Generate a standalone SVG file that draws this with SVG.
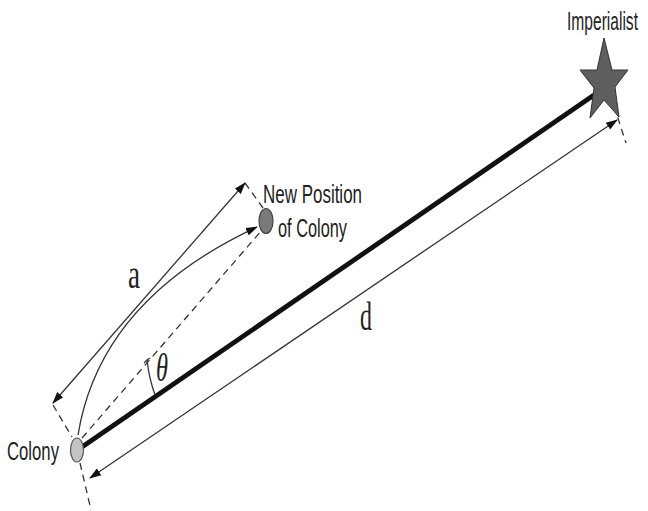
<svg xmlns="http://www.w3.org/2000/svg" width="648" height="511" viewBox="0 0 648 511">
<style>
.thin{fill:none;stroke:#333;stroke-width:1.3}
.dash{fill:none;stroke:#333;stroke-width:1.3;stroke-dasharray:7 5}
.lbl{font-family:"Liberation Sans",Arial,sans-serif;font-size:25px;fill:#222}
.ser{font-family:"Liberation Serif","Times New Roman",serif;fill:#222}
</style>
<defs>
<marker id="ah" markerUnits="userSpaceOnUse" markerWidth="12" markerHeight="9" refX="11" refY="4" orient="auto-start-reverse" viewBox="0 0 12 8">
<path d="M0,0 L12,4 L0,8 z" fill="#111"/>
</marker>
</defs>
<rect width="648" height="511" fill="#fff"/>
<g id="connectors">
<line id="dist" x1="82" y1="447" x2="594" y2="95" stroke="#111" stroke-width="4.8"/>
<line id="d-dim" class="thin" x1="90" y1="478" x2="617" y2="120" marker-start="url(#ah)" marker-end="url(#ah)"/>
<line id="a-dim" class="thin" x1="53" y1="403" x2="245" y2="183" marker-start="url(#ah)" marker-end="url(#ah)"/>
<path id="move" class="thin" d="M78,435 Q100,300 257,227" marker-end="url(#ah)"/>
<line class="dash" x1="82" y1="438" x2="262" y2="230"/>
<line class="dash" x1="53" y1="405" x2="72" y2="437"/>
<line class="dash" x1="245" y1="183" x2="263" y2="208"/>
<line class="dash" x1="80" y1="463" x2="91" y2="510"/>
<line class="dash" x1="614" y1="106" x2="626" y2="143"/>
<path class="thin" d="M147,360 Q149,378 155,395"/>
<path class="thin" d="M144,363 L147,360 L150,358"/>
</g>
<g id="imperialist">
<polygon points="604,38 612,70 628,70 615,87 619,117 604,100 590,118 594,88 580,70 597,70" fill="#5e5e5e" stroke="#333" stroke-width="1"/>
<text class="lbl" transform="translate(567,30) scale(1,1.56)" x="0" y="0" style="font-size:16px" textLength="71" lengthAdjust="spacingAndGlyphs">Imperialist</text>
</g>
<g id="new-position">
<ellipse cx="266" cy="221" rx="7" ry="12.5" fill="#7a7a7a" stroke="#444" stroke-width="1.2"/>
<text class="lbl" x="263" y="203" textLength="99" lengthAdjust="spacingAndGlyphs">New Position</text>
<text class="lbl" x="278" y="237" textLength="69" lengthAdjust="spacingAndGlyphs">of Colony</text>
</g>
<g id="colony">
<ellipse cx="77" cy="450" rx="6.5" ry="12" fill="#c4c4c4" stroke="#555" stroke-width="1.2"/>
<text class="lbl" x="7" y="460" textLength="52" lengthAdjust="spacingAndGlyphs">Colony</text>
</g>
<g id="labels">
<text class="ser" x="128" y="288" font-size="39" textLength="12" lengthAdjust="spacingAndGlyphs">a</text>
<text class="ser" x="360" y="330" font-size="41" textLength="12" lengthAdjust="spacingAndGlyphs">d</text>
<text class="ser" x="156" y="381" font-size="40" font-style="italic" textLength="12" lengthAdjust="spacingAndGlyphs">θ</text>
</g>
</svg>
